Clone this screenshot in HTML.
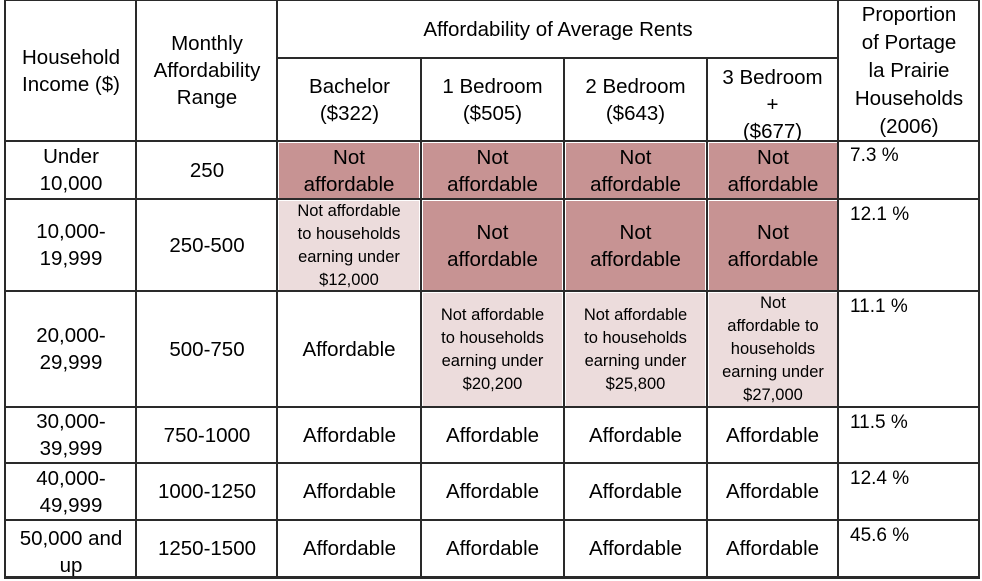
<!DOCTYPE html>
<html><head><style>
body{margin:0;width:982px;height:581px;background:#fff;position:relative;overflow:hidden;font-family:"Liberation Sans",sans-serif;color:#000}
.c{position:absolute;display:flex;align-items:center;justify-content:center;text-align:center;font-size:20.5px;line-height:27px;box-sizing:border-box;white-space:nowrap}
.s{font-size:16.5px;line-height:23px}
.d{background:#c79393}
.l{background:#ecdcdc}
.p{position:absolute;font-size:19px;left:850px}
.h{position:absolute;background:#2a2a2a}
</style></head><body>
<div class="c d" style="left:279px;top:143px;width:140px;height:55px">Not<br>affordable</div>
<div class="c d" style="left:423px;top:143px;width:139px;height:55px">Not<br>affordable</div>
<div class="c d" style="left:566px;top:143px;width:139px;height:55px">Not<br>affordable</div>
<div class="c d" style="left:709px;top:143px;width:128px;height:55px">Not<br>affordable</div>
<div class="c l s" style="left:279px;top:201px;width:140px;height:89px">Not affordable<br>to households<br>earning under<br>$12,000</div>
<div class="c d" style="left:423px;top:201px;width:139px;height:89px">Not<br>affordable</div>
<div class="c d" style="left:566px;top:201px;width:139px;height:89px">Not<br>affordable</div>
<div class="c d" style="left:709px;top:201px;width:128px;height:89px">Not<br>affordable</div>
<div class="c" style="left:279px;top:293px;width:140px;height:113px">Affordable</div>
<div class="c l s" style="left:423px;top:293px;width:139px;height:113px">Not affordable<br>to households<br>earning under<br>$20,200</div>
<div class="c l s" style="left:566px;top:293px;width:139px;height:113px">Not affordable<br>to households<br>earning under<br>$25,800</div>
<div class="c l s" style="left:709px;top:293px;width:128px;height:113px">Not<br>affordable to<br>households<br>earning under<br>$27,000</div>
<div class="c" style="left:6px;top:0;width:130px;height:141px">Household<br>Income ($)</div>
<div class="c" style="left:137px;top:0;width:140px;height:141px">Monthly<br>Affordability<br>Range</div>
<div class="c" style="left:278px;top:0;width:560px;height:58px">Affordability of Average Rents</div>
<div class="c" style="left:278px;top:58px;width:143px;height:83px">Bachelor<br>($322)</div>
<div class="c" style="left:421px;top:58px;width:143px;height:83px">1 Bedroom<br>($505)</div>
<div class="c" style="left:564px;top:58px;width:143px;height:83px">2 Bedroom<br>($643)</div>
<div class="c" style="left:707px;top:58px;width:131px;height:83px;line-height:27px;padding-top:10px">3 Bedroom<br>+<br>($677)</div>
<div class="c" style="left:838px;top:0;width:142px;height:141px;line-height:28px">Proportion<br>of Portage<br>la Prairie<br>Households<br>(2006)</div>
<div class="c" style="left:6px;top:141px;width:130px;height:58px">Under<br>10,000</div>
<div class="c" style="left:137px;top:141px;width:140px;height:58px">250</div>
<div class="c" style="left:6px;top:199px;width:130px;height:92px">10,000-<br>19,999</div>
<div class="c" style="left:137px;top:199px;width:140px;height:92px">250-500</div>
<div class="c" style="left:6px;top:291px;width:130px;height:116px">20,000-<br>29,999</div>
<div class="c" style="left:137px;top:291px;width:140px;height:116px">500-750</div>
<div class="c" style="left:6px;top:407px;width:130px;height:56px">30,000-<br>39,999</div>
<div class="c" style="left:137px;top:407px;width:140px;height:56px">750-1000</div>
<div class="c" style="left:6px;top:463px;width:130px;height:57px">40,000-<br>49,999</div>
<div class="c" style="left:137px;top:463px;width:140px;height:57px">1000-1250</div>
<div class="c" style="left:6px;top:520px;width:130px;height:57px;padding-top:6px">50,000 and<br>up</div>
<div class="c" style="left:137px;top:520px;width:140px;height:57px">1250-1500</div>
<div class="c" style="left:278px;top:407px;width:143px;height:56px">Affordable</div>
<div class="c" style="left:421px;top:407px;width:143px;height:56px">Affordable</div>
<div class="c" style="left:564px;top:407px;width:143px;height:56px">Affordable</div>
<div class="c" style="left:707px;top:407px;width:131px;height:56px">Affordable</div>
<div class="c" style="left:278px;top:463px;width:143px;height:57px">Affordable</div>
<div class="c" style="left:421px;top:463px;width:143px;height:57px">Affordable</div>
<div class="c" style="left:564px;top:463px;width:143px;height:57px">Affordable</div>
<div class="c" style="left:707px;top:463px;width:131px;height:57px">Affordable</div>
<div class="c" style="left:278px;top:520px;width:143px;height:57px">Affordable</div>
<div class="c" style="left:421px;top:520px;width:143px;height:57px">Affordable</div>
<div class="c" style="left:564px;top:520px;width:143px;height:57px">Affordable</div>
<div class="c" style="left:707px;top:520px;width:131px;height:57px">Affordable</div>
<div class="p" style="top:145px">7.3 %</div>
<div class="p" style="top:204px">12.1 %</div>
<div class="p" style="top:296px">11.1 %</div>
<div class="p" style="top:412px">11.5 %</div>
<div class="p" style="top:468px">12.4 %</div>
<div class="p" style="top:525px">45.6 %</div>
<div class="h" style="left:4px;top:0;width:2px;height:579px"></div>
<div class="h" style="left:135px;top:0;width:2px;height:579px"></div>
<div class="h" style="left:276px;top:0;width:2px;height:579px"></div>
<div class="h" style="left:420px;top:58px;width:2px;height:521px"></div>
<div class="h" style="left:563px;top:58px;width:2px;height:521px"></div>
<div class="h" style="left:706px;top:58px;width:2px;height:521px"></div>
<div class="h" style="left:837px;top:0;width:2px;height:579px"></div>
<div class="h" style="left:978px;top:0;width:2px;height:579px"></div>
<div class="h" style="left:4px;top:0;width:976px;height:1px"></div>
<div class="h" style="left:276px;top:57px;width:563px;height:2px"></div>
<div class="h" style="left:4px;top:140px;width:976px;height:2px"></div>
<div class="h" style="left:4px;top:198px;width:976px;height:2px"></div>
<div class="h" style="left:4px;top:290px;width:976px;height:2px"></div>
<div class="h" style="left:4px;top:406px;width:976px;height:2px"></div>
<div class="h" style="left:4px;top:462px;width:976px;height:2px"></div>
<div class="h" style="left:4px;top:519px;width:976px;height:2px"></div>
<div class="h" style="left:4px;top:576px;width:976px;height:3px"></div>
</body></html>
